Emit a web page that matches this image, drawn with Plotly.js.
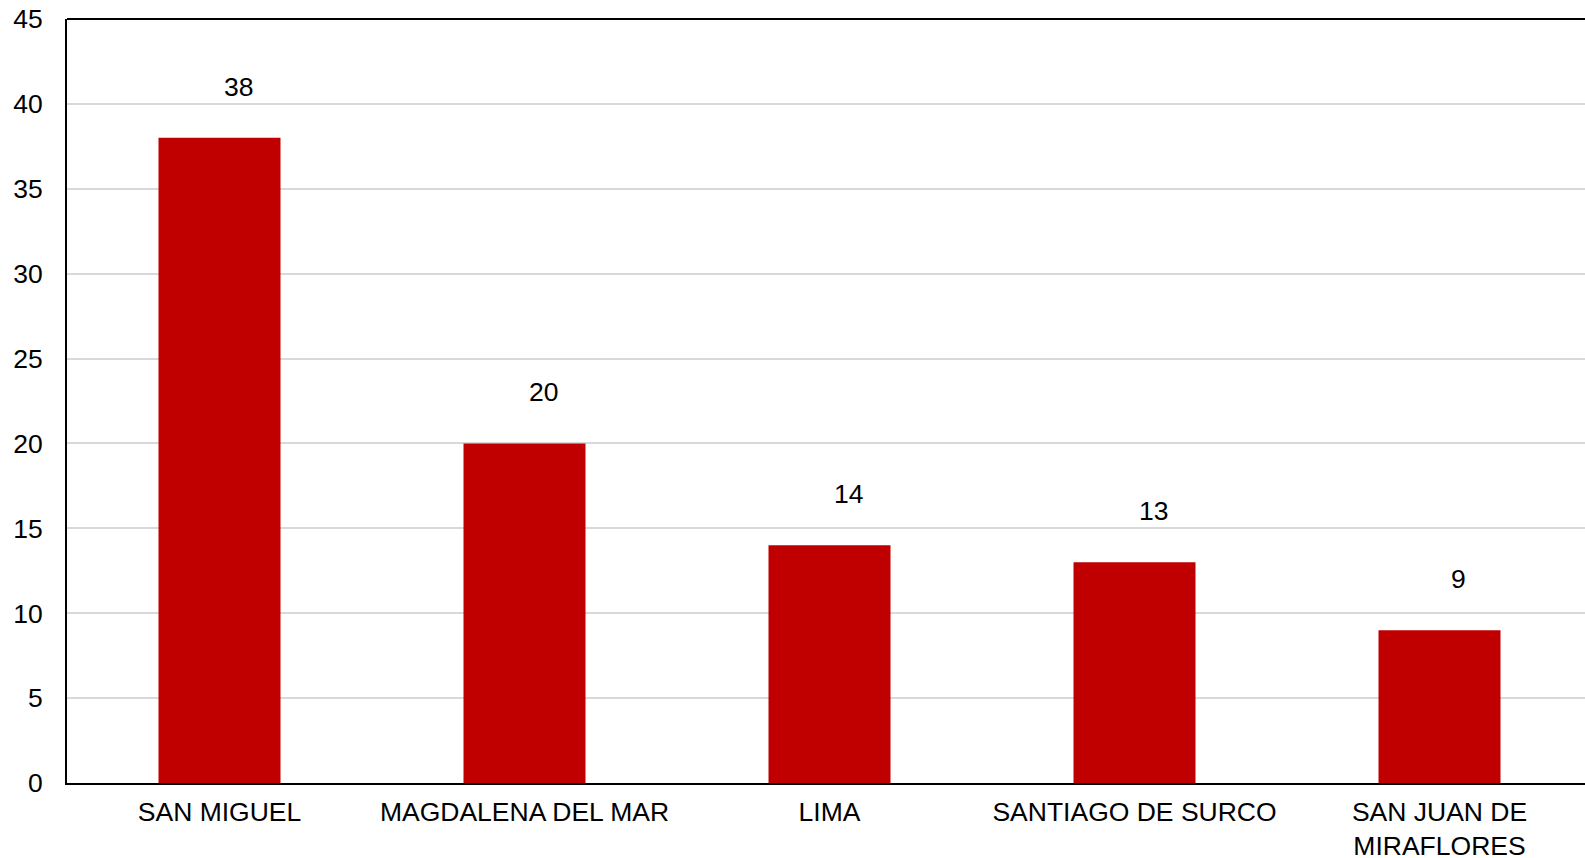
<!DOCTYPE html>
<html>
<head>
<meta charset="utf-8">
<script src="https://cdn.plot.ly/plotly-3.0.1.min.js"></script>
<style>html,body{margin:0;padding:0;background:#fff;overflow:hidden}#chart{width:1585px;height:858px}</style>
</head>
<body>
<div id="chart"></div>
<script>
const categories = ["SAN MIGUEL", "MAGDALENA DEL MAR", "LIMA", "SANTIAGO DE SURCO", "SAN JUAN DE<br>MIRAFLORES"];
const values = [38, 20, 14, 13, 9];
const yTicks = [0, 5, 10, 15, 20, 25, 30, 35, 40, 45];

const font = {family: "Liberation Sans, Arial, sans-serif", size: 26.5, color: "#000"};

const trace = {
  type: "bar",
  x: categories.map((c, i) => i),
  y: values,
  marker: {color: "#c00000"},
  hoverinfo: "none"
};

const annotations = values.map((v, i) => ({
  x: i, y: v, xref: "x", yref: "y",
  text: String(v), showarrow: false,
  xshift: 19, yshift: 51,
  xanchor: "center", yanchor: "middle",
  font: font
}));

const layout = {
  width: 1585, height: 858,
  margin: {l: 67, r: 0, t: 19, b: 75, pad: 0},
  paper_bgcolor: "#fff", plot_bgcolor: "#fff",
  bargap: 0.6,
  showlegend: false,
  font: font,
  xaxis: {
    range: [-0.5, 4.477],
    tickmode: "array",
    tickvals: categories.map((c, i) => i),
    ticktext: categories,
    showgrid: false, zeroline: false,
    showline: true, linecolor: "#000", linewidth: 2,
    ticks: "", ticklabelstandoff: 4,
    automargin: false,
    mirror: false, fixedrange: true
  },
  yaxis: {
    range: [0, 45],
    tickmode: "array",
    tickvals: yTicks,
    ticktext: yTicks.map(String),
    showgrid: true, gridcolor: "#d9d9d9", gridwidth: 2,
    zeroline: false,
    showline: true, linecolor: "#000", linewidth: 2,
    ticks: "", ticklabelstandoff: 17,
    automargin: false, fixedrange: true
  },
  shapes: [{
    type: "line", xref: "paper", yref: "paper",
    x0: 0, x1: 1, y0: 1, y1: 1,
    line: {color: "#000", width: 2}
  }],
  annotations: annotations
};

Plotly.newPlot("chart", [trace], layout, {displayModeBar: false, staticPlot: true});
</script>
</body>
</html>
